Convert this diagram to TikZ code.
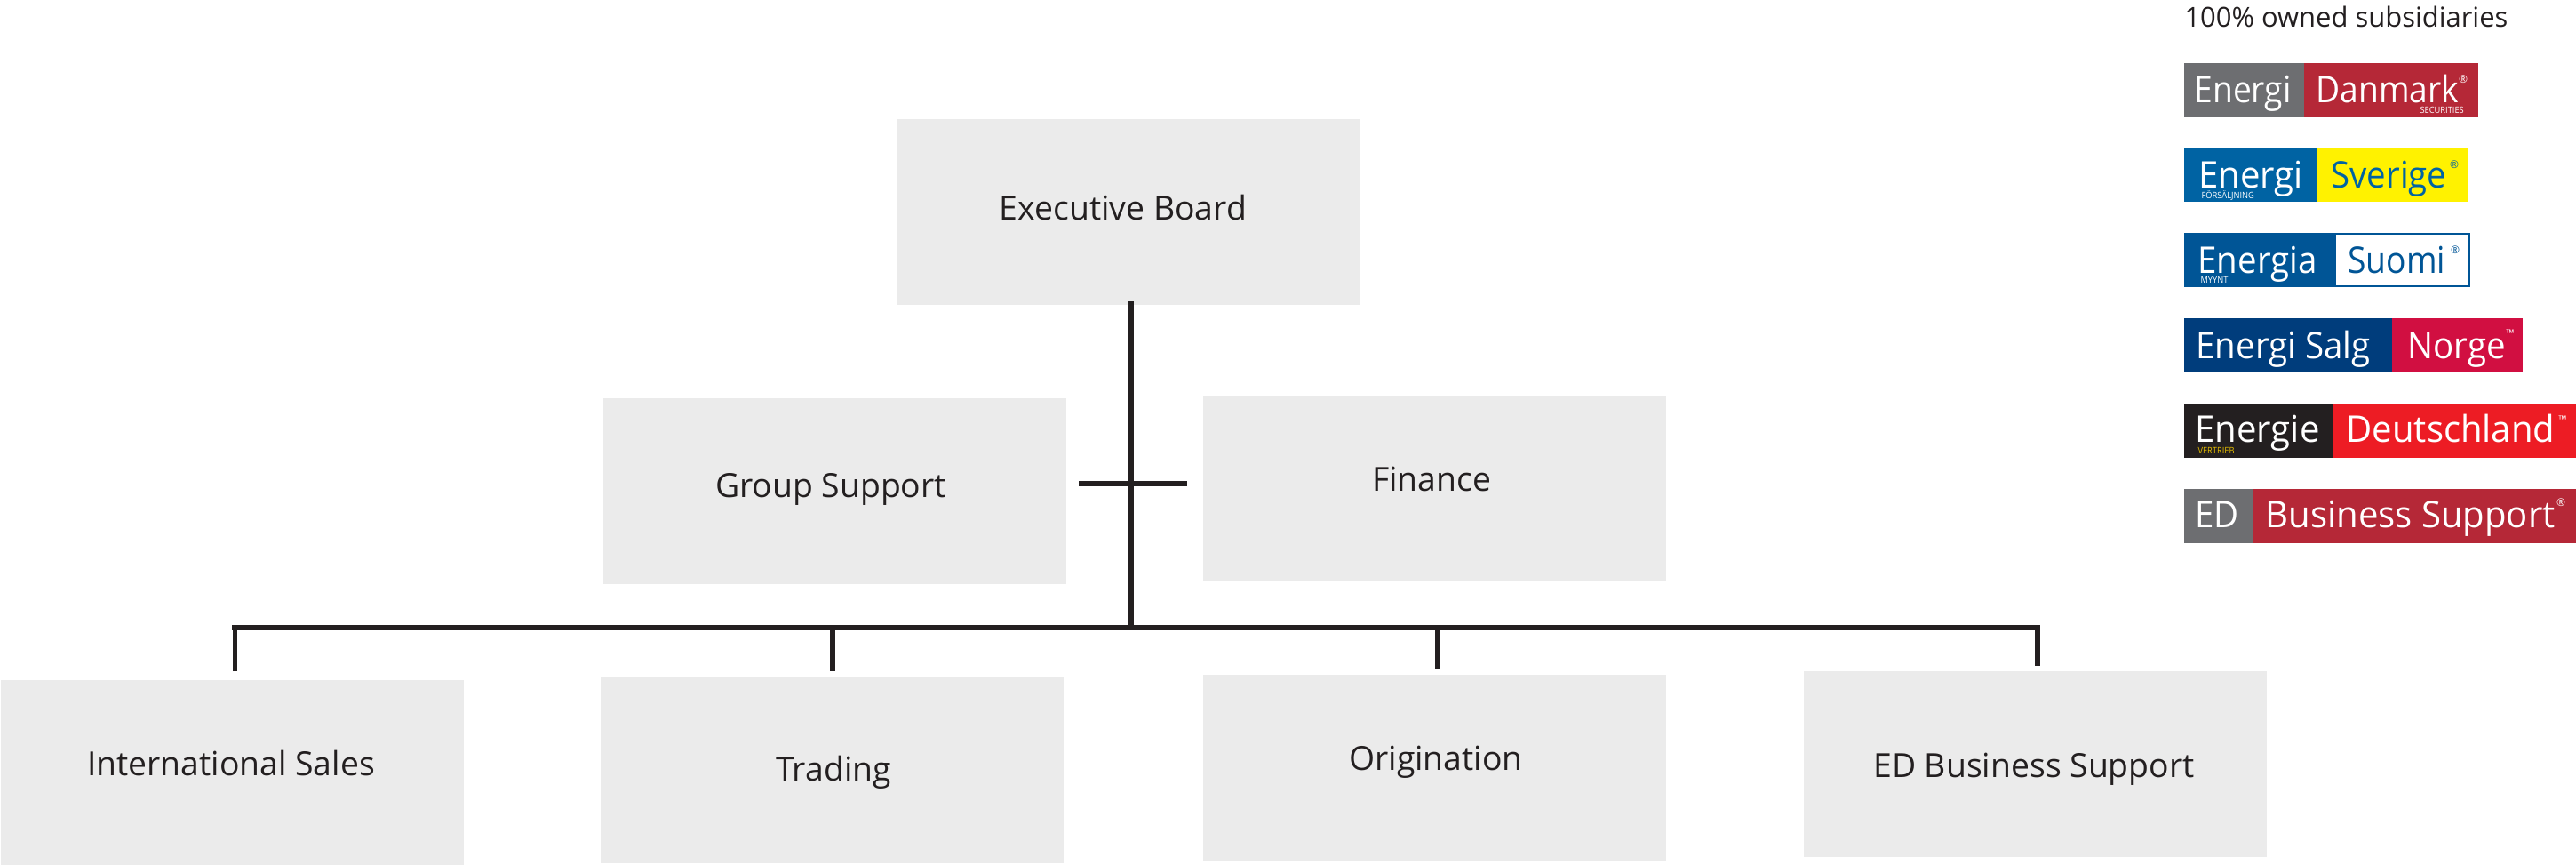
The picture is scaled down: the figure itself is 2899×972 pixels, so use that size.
\documentclass[tikz,border=0pt]{standalone}
\usepackage{fontspec}
\setmainfont{Open Sans}
\newfontfamily\logofont[FakeStretch=0.93]{Open Sans}
\newfontfamily\logonarrowfont[FakeStretch=0.9]{Open Sans}
\newfontfamily\logowidefont[FakeStretch=0.97]{Open Sans}
\definecolor{boxgray}{RGB}{235,235,235}
\definecolor{linedark}{RGB}{35,31,32}
\definecolor{edgray}{RGB}{109,110,113}
\definecolor{edred}{RGB}{181,40,55}
\definecolor{seblue}{RGB}{0,99,163}
\definecolor{seyellow}{RGB}{255,242,0}
\definecolor{fiblue}{RGB}{0,85,150}
\definecolor{noblue}{RGB}{0,61,124}
\definecolor{nored}{RGB}{209,15,65}
\definecolor{dered}{RGB}{237,28,36}
\definecolor{devert}{RGB}{230,190,0}
\tikzset{every picture/.style={line width=0.75pt}}
\tikzset{
  orgbox/.style={fill=boxgray,inner sep=0pt,anchor=north west,minimum width=390.75pt,minimum height=157pt},
  orgtext/.style={text=linedark,inner sep=0pt,anchor=base,font=\fontsize{28}{28}\selectfont},
  orgline/.style={draw=linedark,line width=4.4pt},
  busline/.style={draw=linedark,line width=5pt},
  headtext/.style={text=linedark,inner sep=0pt,anchor=base west,font=\fontsize{23.2}{24}\selectfont},
  logotext/.style={text=white,inner sep=0pt,anchor=base west,font=\logofont\fontsize{31}{31}\selectfont},
  logonarrow/.style={logotext,font=\logonarrowfont\fontsize{31}{31}\selectfont},
  logowide/.style={logotext,font=\logowidefont\fontsize{31}{31}\selectfont},
  logosub/.style={text=white,inner sep=0pt,anchor=base west,font=\logofont\fontsize{7.5}{8}\selectfont},
  logomark/.style={text=white,inner sep=0pt,anchor=center,font=\fontsize{9}{9}\selectfont}
}

\begin{document}
\begin{tikzpicture}[x=0.75pt,y=0.75pt,yscale=-1,xscale=1]
\useasboundingbox (0,0) rectangle (2899,972);

%Shape: Org boxes
\node [orgbox] (exec) at (1008,133) {};
\node [orgbox] (group) at (678,447) {};
\node [orgbox] (finance) at (1353,444) {};
\node [orgbox] (intl) at (0,764) {};
\node [orgbox] (trading) at (675,761) {};
\node [orgbox] (origin) at (1353,758) {};
\node [orgbox] (edbs) at (2029,754) {};

% Text Node
\node [orgtext] (exectxt) at (1264,247) {Executive Board};
\node [orgtext] (grouptxt) at (935,559) {Group Support};
\node [orgtext] (financetxt) at (1611,552) {Finance};
\node [orgtext] (intltxt) at (260,872) {International Sales};
\node [orgtext] (tradingtxt) at (938,878) {Trading};
\node [orgtext] (origintxt) at (1616,866) {Origination};
\node [orgtext] (edbstxt) at (2289,874) {ED Business Support};

%Shape: Connector ends
\coordinate (stemtop) at (1272.7,339);
\coordinate (stembot) at (1272.7,708);
\coordinate (crossl) at (1214,544);
\coordinate (crossr) at (1336,544);
\coordinate (busl) at (264.5,706);
\coordinate (busr) at (2293,706);
\coordinate (dropintl) at (264.5,755);
\coordinate (droptrad) at (937,755);
\coordinate (droptradtop) at (937,706);
\coordinate (droporig) at (1618,752);
\coordinate (droporigtop) at (1618,706);
\coordinate (dropedbs) at (2293,749);

%Shape: Connectors
\draw [orgline] (stemtop) -- (stembot);
\draw [busline] (crossl) -- (crossr);
\draw [orgline] (dropintl) -- (busl);
\draw [orgline] (busr) -- (dropedbs);
\draw [orgline] (droptradtop) -- (droptrad);
\draw [orgline] (droporigtop) -- (droporig);
\draw [busline,line cap=rect] (busl) -- (busr);

% Text Node
\node [headtext] (subshead) at (2458,30) {100\% owned subsidiaries};

%Shape: Energi Danmark
\fill [edgray] (2458,71) rectangle (2593,132);
\fill [edred] (2593,71) rectangle (2789,132);
\node [logonarrow] (dk1) at (2469,115) {Energi};
\node [logonarrow] (dk2) at (2606,115) {Danmark};
\node [logosub] (dk3) at (2723,127) {SECURITIES};
\node [logomark] (dk4) at (2772,89) {®};

%Shape: Energi Sverige
\fill [seblue] (2458,166) rectangle (2607,227);
\fill [seyellow] (2607,166) rectangle (2777,227);
\node [logowide] (se1) at (2474,211) {Energi};
\node [logotext,text=seblue] (se2) at (2623,211) {Sverige};
\node [logosub] (se3) at (2477,223) {FÖRSÄLJNING};
\node [logomark,text=seblue] (se4) at (2762,185) {®};

%Shape: Energia Suomi
\fill [fiblue] (2458,262) rectangle (2628,323);
\draw [draw=fiblue,fill=white,line width=1.5pt] (2628,263) rectangle (2779,322);
\node [logotext] (fi1) at (2473,307) {Energia};
\node [logonarrow,text=fiblue] (fi2) at (2642,307) {Suomi};
\node [logosub] (fi3) at (2476,318) {MYYNTI};
\node [logomark,text=fiblue] (fi4) at (2763,281) {®};

%Shape: Energi Salg Norge
\fill [noblue] (2458,358) rectangle (2692,419);
\fill [nored] (2692,358) rectangle (2839,419);
\node [logotext] (no1) at (2471,403) {Energi Salg};
\node [logotext] (no2) at (2709,403) {Norge};
\node [logomark] (no3) at (2825,375) {™};

%Shape: Energie Deutschland
\fill [linedark] (2458,454) rectangle (2625,515);
\fill [dered] (2625,454) rectangle (2899,515);
\node [logowide] (de1) at (2470,497) {Energie};
\node [logowide] (de2) at (2640,497) {Deutschland};
\node [logosub,text=devert] (de3) at (2473,510) {VERTRIEB};
\node [logomark] (de4) at (2884,472) {™};

%Shape: ED Business Support
\fill [edgray] (2458,550) rectangle (2535,611);
\fill [edred] (2535,550) rectangle (2899,611);
\node [logotext] (ed1) at (2470,593) {ED};
\node [logowide] (ed2) at (2549,593) {Business Support};
\node [logomark] (ed3) at (2882,565) {®};

\end{tikzpicture}
\end{document}
